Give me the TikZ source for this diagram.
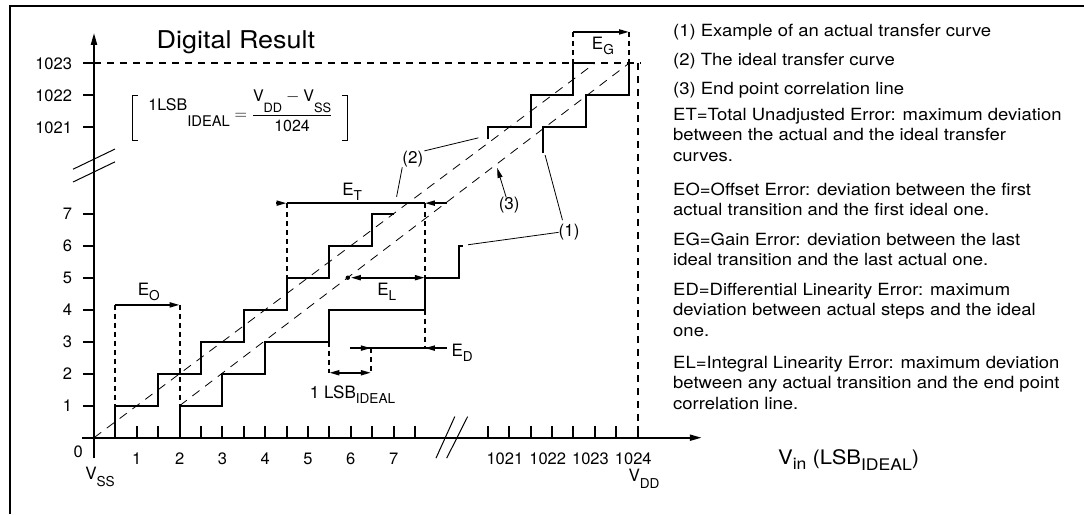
\documentclass[tikz,border=0pt]{standalone}
\usepackage{amsmath}
\usepackage{graphicx}
\usepackage{fontspec}
\setmainfont{TeX Gyre Heros}
\newfontfamily\widefont{TeX Gyre Heros}[FakeStretch=1.1]
\usetikzlibrary{arrows.meta}
\newcommand{\sbs}[2][0.3em]{\raisebox{-#1}{\scalebox{0.8}{#2}}}

\begin{document}
\begin{tikzpicture}[x=1pt, y=-1pt,
  axis/.style={line width=2pt},
  stair/.style={line width=2pt},
  ideal/.style={line width=0.8pt, dash pattern=on 9pt off 7pt},
  guide/.style={line width=2pt, dash pattern=on 5pt off 4pt},
  longguide/.style={line width=2pt, dash pattern=on 7pt off 6pt},
  lead/.style={line width=0.8pt},
  tip/.style={-{Triangle[length=10pt,width=5pt]}, line width=1.8pt},
  both/.style={{Triangle[length=10pt,width=5pt]}-{Triangle[length=10pt,width=5pt]}, line width=1.8pt},
  num/.style={font=\fontsize{16.5}{18}\selectfont, inner sep=0pt},
  lab/.style={font=\fontsize{17}{19}\selectfont, inner sep=0pt, anchor=base},
  legend/.style={font=\widefont\fontsize{16.8}{20.6}\selectfont, align=left, anchor=base west, inner sep=0pt}]
  \useasboundingbox (0,0) rectangle (1084,514);
  % frame
  \draw[line width=2.5pt] (10,514) -- (10,6) -- (1084,6);

  % plot, in LSB units
  \begin{scope}[shift={(94,437.7)}, x=42.8pt, y=32pt]
    % axes
    \draw[axis, -{Triangle[length=12pt,width=6pt]}] (-0.28,0) -- (14.2,0);
    \draw[axis, -{Triangle[length=12pt,width=6pt]}] (0,-0.64) -- (0,12.65);
    \draw[line width=1pt] (-0.49,8.39) -- (0.49,9.02) (-0.49,7.99) -- (0.49,8.62);
    \draw[line width=1pt] (7.99,-0.64) -- (8.43,0.66) (8.24,-0.64) -- (8.73,0.66);

    % ticks and numbers
    \foreach \k/\lab in {1/1,2/2,3/3,4/4,5/5,6/6,7/7,9.7/1021,10.7/1022,11.7/1023}{
      \draw[axis] (-0.26,\k) -- (0,\k);
      \node[num, anchor=east] (ly\lab) at (-0.51,\k) {\lab};
    }
    \foreach \x in {0.5,1,1.5,2,2.5,3,3.5,4,4.5,5,5.5,6,6.5,7,7.5,9.2,9.7,10.2,10.7,11.2,11.7,12.2,12.7}
      \draw[axis] (\x,0) -- (\x,0.37);
    \foreach \x in {1,...,7}
      \node[num] (lx\x) at (\x,-0.67) {\x};
    \foreach \x/\lab in {9.6/1021,10.6/1022,11.6/1023,12.6/1024}
      \node[num] (lx\lab) at (\x,-0.67) {\lab};
    \node[num] (l0) at (-0.37,-0.44) {0};
    \node[lab] (vss) at (0.14,-1.32) {V\sbs[0.4em]{SS}};
    \node[lab] (vdd) at (12.85,-1.36) {V\sbs[0.4em]{DD}};
    \node[font=\widefont\fontsize{20}{24}\selectfont, anchor=base west, inner sep=0pt]
      (vin) at (15.98,-0.85) {V\sbs[0.25em]{in} (LSB\sbs[0.3em]{IDEAL})};
    \node[font=\widefont\fontsize{24.5}{28}\selectfont, anchor=base west, inner sep=0pt]
      (title) at (1.46,12.17) {Digital Result};

    % 1 LSB formula
    \node[minimum width=214pt, minimum height=45pt, inner sep=0pt] (lsb) at (3.41,10.0) {};
    \node[font=\fontsize{16}{18}\selectfont, inner sep=0pt] (lsbeq) at (3.42,10.22)
      {$\text{\raisebox{0.55em}{1LSB}\raisebox{-0.45em}{\scalebox{0.92}{IDEAL}}} =
        \dfrac{\text{V\sbs[0.7em]{DD}} - \text{V\sbs[0.7em]{SS}}}{\text{1024}}$};
    \draw[lead] ([xshift=5pt]lsb.north west) -- (lsb.north west) -- (lsb.south west) -- ++(5pt,0);
    \draw[lead] ([xshift=-5pt]lsb.north east) -- (lsb.north east) -- (lsb.south east) -- ++(-5pt,0);

    % straight lines
    \draw[ideal] (0,0) -- (11.7,11.7);
    \draw[ideal] (2,1) -- (12.5,11.7);
    \draw[longguide] (0,11.7) -- (12.76,11.7);
    \draw[longguide] (12.7,11.7) -- (12.7,0);

    % ideal transfer curve
    \draw[stair] (0.5,0) |- (1.5,1) |- (2.5,2) |- (3.5,3) |- (4.5,4) |- (5.5,5) |- (6.5,6) |- (7,7);
    \draw[stair] (9.2,9.32) |- (10.2,9.7) |- (11.2,10.7) |- (11.7,11.7);
    % actual transfer curve
    \draw[stair] (2,0) |- (3,1) |- (4,2) |- (5.5,3) |- (7.73,4) |- (8.53,5) |- (8.63,6);
    \draw[stair] (10.5,8.9) |- (11.5,9.7) |- (12.5,10.7) -- (12.5,11.7);

    % E_O
    \coordinate (eoA) at (0.5,4.15);
    \coordinate (eoB) at (2,4.15);
    \draw[guide] (eoA) -- (0.5,1);
    \draw[guide] (eoB) -- (2,1.05);
    \draw[tip] (eoA) -- (eoB);
    \node[lab] (eo) at (1.28,4.45) {E\sbs{O}};

    % E_T
    \coordinate (etL) at (4.25,7.33);
    \coordinate (etA) at (4.5,7.33);
    \coordinate (etB) at (7.73,7.33);
    \coordinate (etR) at (8.25,7.33);
    \draw[line width=1.8pt] (etA) -- (etB);
    \draw[tip] (etL) -- (etA);
    \draw[tip] (etR) -- (etB);
    \draw[guide] (etA) -- (4.5,5);
    \draw[guide] (etB) -- (7.73,5);
    \node[lab] (et) at (6.03,7.58) {E\sbs{T}};

    % E_L
    \coordinate (elA) at (5.93,5);
    \coordinate (elB) at (7.73,5);
    \draw[both, shorten <=3pt] (elA) -- (elB);
    \fill (elA) circle (2.2pt);
    \node[lab] (el) at (6.84,4.45) {E\sbs{L}};

    % E_D and 1 LSB
    \coordinate (edL) at (5.98,2.8);
    \coordinate (edA) at (6.47,2.8);
    \coordinate (edB) at (7.73,2.8);
    \coordinate (edR) at (8.24,2.8);
    \coordinate (lsA) at (5.5,2.03);
    \coordinate (lsB) at (6.47,2.03);
    \draw[line width=1.8pt] (edL) -- (edR);
    \draw[tip] (edL) -- (edA);
    \draw[tip] (edR) -- (edB);
    \draw[guide] (edA) -- (lsB);
    \draw[guide] (7.73,4) -- (edB);
    \draw[guide] (5.5,3) -- (lsA);
    \draw[both] (lsA) -- (lsB);
    \node[lab, anchor=base west] (ed) at (8.35,2.53) {E\sbs{D}};
    \node[lab] (lsbl) at (6.04,1.24) {1 LSB\sbs{IDEAL}};

    % E_G
    \coordinate (egA) at (11.2,12.68);
    \coordinate (egB) at (12.5,12.68);
    \draw[guide] (egA) -- (11.2,11.7);
    \draw[guide] (egB) -- (12.5,11.7);
    \draw[tip] (egA) -- (egB);
    \node[lab] (eg) at (11.89,12.12) {E\sbs{G}};

    % call-outs
    \node[lab] (n2) at (7.45,8.57) {(2)};
    \coordinate (c2a) at (8.98,9.37);
    \coordinate (c2b) at (7.07,7.53);
    \draw[lead] ([xshift=1pt]n2.north east) -- (c2a);
    \draw[lead] (n2.south west) -- (c2b);
    \node[lab] (n3) at (9.7,7.12) {(3)};
    \coordinate (c3) at (9.42,8.43);
    \draw[lead, -{Triangle[length=10pt,width=5pt]}] ([xshift=-3pt]n3.north) -- (c3);
    \node[lab] (n1) at (11.1,6.28) {(1)};
    \coordinate (c1a) at (8.74,6.03);
    \coordinate (c1b) at (10.54,8.83);
    \draw[lead] (n1.west) -- (c1a);
    \draw[lead] ([shift={(4pt,4pt)}]n1.north west) -- (c1b);
  \end{scope}

  % legend (base = last line)
  \node[legend] (d1) at (673,36.7) {(1) Example of an actual transfer curve};
  \node[legend] (d2) at (673,65) {(2) The ideal transfer curve};
  \node[legend] (d3) at (673,94.3) {(3) End point correlation line};
  \node[legend] (det) at (673,161.2) {ET=Total Unadjusted Error: maximum deviation\\between the actual and the ideal transfer\\curves.};
  \node[legend] (deo) at (673,215.6) {EO=Offset Error: deviation between the first\\actual transition and the first ideal one.};
  \node[legend] (deg) at (673,265.6) {EG=Gain Error: deviation between the last\\ideal transition and the last actual one.};
  \node[legend] (ded) at (673,336.2) {ED=Differential Linearity Error: maximum\\deviation between actual steps and the ideal\\one.};
  \node[legend] (del) at (673,409.5) {EL=Integral Linearity Error: maximum deviation\\between any actual transition and the end point\\correlation line.};
\end{tikzpicture}
\end{document}
